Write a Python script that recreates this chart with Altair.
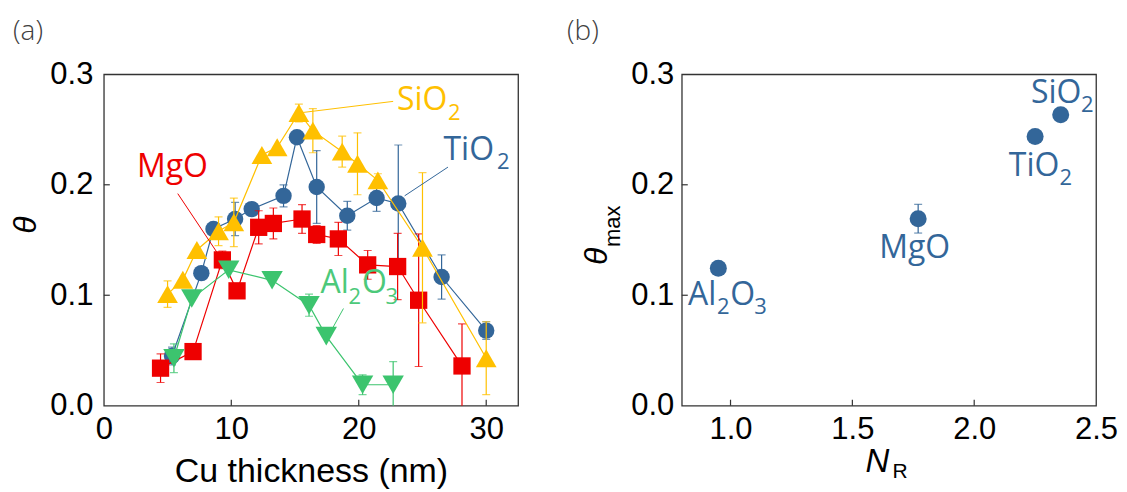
import altair as alt
import pandas as pd

# ---------------- Panel (a): theta vs Cu thickness ----------------
ti_t = [5.35, 7.65, 8.6, 10.3, 11.6, 14.1, 15.15, 16.7, 19.1, 21.4, 23.1, 26.5, 30.0]
ti_v = [0.045, 0.120, 0.160, 0.169, 0.178, 0.190, 0.243, 0.198, 0.172, 0.188, 0.183, 0.1165, 0.068]
ti_e = [0.008, 0.0, 0.0, 0.015, 0.0, 0.01, 0.0, 0.033, 0.013, 0.012, 0.053, 0.02, 0.008]

mg_t = [4.45, 7.0, 9.3, 10.45, 12.15, 13.3, 15.55, 16.7, 18.4, 20.7, 23.05, 24.7, 28.1]
mg_v = [0.034, 0.049, 0.132, 0.104, 0.1615, 0.165, 0.169, 0.155, 0.151, 0.1275, 0.126, 0.0955, 0.036]
mg_e = [0.013, 0.0, 0.008, 0.0, 0.015, 0.014, 0.013, 0.008, 0.015, 0.013, 0.03, 0.06, 0.038]

si_t = [5.0, 6.2, 7.3, 9.0, 10.2, 12.4, 13.6, 15.3, 16.4, 18.7, 19.9, 21.5, 25.0, 30.0]
si_v = [0.101, 0.114, 0.141, 0.158, 0.166, 0.227, 0.234, 0.265, 0.249, 0.230, 0.219, 0.204, 0.143, 0.043]
si_e = [0.012, 0.0, 0.0, 0.013, 0.022, 0.0, 0.0, 0.008, 0.02, 0.014, 0.028, 0.006, 0.068, 0.033]

al_t = [5.5, 6.9, 9.8, 13.2, 16.1, 17.45, 20.3, 22.7]
al_v = [0.043, 0.097, 0.123, 0.1135, 0.091, 0.063, 0.019, 0.019]
al_e = [0.013, 0.0, 0.0, 0.0, 0.01, 0.0, 0.009, 0.021]

x_ticks_a = [0, 10, 20, 30]
y_ticks = [0.0, 0.1, 0.2, 0.3]

# annotations of panel (a)
ann_a_label = ["SiO", "2", "TiO", "2", "MgO", "Al", "2", "O", "3"]
ann_a_t = [23.0, 27.0, 26.65, 30.84, 2.6, 17.0, 19.2, 20.25, 22.1]
ann_a_v = [0.268, 0.2584, 0.2228, 0.2147, 0.2066, 0.1018, 0.0921, 0.1018, 0.0921]
ann_a_col = ["SiO2", "SiO2", "TiO2", "TiO2", "MgO", "Al2O3", "Al2O3", "Al2O3", "Al2O3"]
ann_a_sub = [0, 1, 0, 1, 0, 0, 1, 0, 1]

lead_a_t = [15.3, 23.6, 5.8, 17.6]
lead_a_v = [0.265, 0.19, 0.192, 0.063]
lead_a_t2 = [22.7, 27.0, 9.27, 18.8]
lead_a_v2 = [0.2755, 0.216, 0.132, 0.088]
lead_a_col = ["SiO2", "TiO2", "MgO", "Al2O3"]

# ---------------- Panel (b): theta_max vs N_R ----------------
b_names = ["Al2O3", "MgO", "TiO2", "SiO2"]
b_nr = [0.95, 1.77, 2.25, 2.355]
b_v = [0.1245, 0.1693, 0.2437, 0.2633]
b_e = [0.0, 0.013, 0.0, 0.0]
x_ticks_b = [1.0, 1.5, 2.0, 2.5]

ann_b_label = ["SiO", "2", "TiO", "2", "MgO", "Al", "2", "O", "3"]
ann_b_x = [2.233, 2.438, 2.142, 2.35, 1.610, 0.826, 0.944, 0.999, 1.097]
ann_b_v = [0.2744, 0.2655, 0.2084, 0.2, 0.1334, 0.0916, 0.0827, 0.0916, 0.0827]
ann_b_sub = [0, 1, 0, 1, 0, 0, 1, 0, 1]

# ---------------- styles ----------------
COLORS = {"SiO2": "#FFC000", "TiO2": "#336699", "MgO": "#EE0000", "Al2O3": "#3CC46E"}
TEXTCOL = {"SiO2": "#FFC000", "TiO2": "#336699", "MgO": "#EE0000", "Al2O3": "#4CC97A"}
SHAPES = {"SiO2": "triangle-up", "TiO2": "circle", "MgO": "square", "Al2O3": "triangle-down"}
SIZES = {"SiO2": 430, "TiO2": 270, "MgO": 300, "Al2O3": 460}
ORDER = ["TiO2", "MgO", "SiO2", "Al2O3"]
DATA = {"TiO2": (ti_t, ti_v, ti_e), "MgO": (mg_t, mg_v, mg_e),
        "SiO2": (si_t, si_v, si_e), "Al2O3": (al_t, al_v, al_e)}

W, H = 415, 332
TICK_COL = "#333333"
LABEL_FONT = "Liberation Sans"
ANN_FONT = "Open Sans"
MAIN_FS, SUB_FS = 32, 22
PANEL_FS = 28
one = pd.DataFrame({"k": [0]})

# ---------- panel (a) ----------
xa_scale = alt.Scale(domain=[0, 32.5], nice=False, zero=False)
ya_scale = alt.Scale(domain=[0, 0.3], nice=False, zero=False)
xa_axis = alt.Axis(values=x_ticks_a, format="d", title="Cu thickness (nm)",
                   labelPadding=9, titlePadding=10)
ya_axis = alt.Axis(values=y_ticks, format=".1f", title=None, labelPadding=11)


def XA(f):
    return alt.X(f"{f}:Q", scale=xa_scale, axis=xa_axis)


def YA(f):
    return alt.Y(f"{f}:Q", scale=ya_scale, axis=ya_axis)


layers_a = []
for name in ORDER:
    ts, vs, es = DATA[name]
    df = pd.DataFrame({"t": ts, "theta": vs, "err": es, "i": list(range(len(ts)))})
    df["lo"] = df["theta"] - df["err"]
    df["hi"] = df["theta"] + df["err"]
    dfe = df[df["err"] > 0]
    c = COLORS[name]
    layers_a.append(alt.Chart(df).mark_line(color=c, strokeWidth=1.2).encode(
        x=XA("t"), y=YA("theta"), order="i:Q"))
    layers_a.append(alt.Chart(dfe).mark_rule(color=c, strokeWidth=1.2, clip=True).encode(
        x=XA("t"), y=YA("lo"), y2="hi:Q"))
    for f in ["lo", "hi"]:
        layers_a.append(alt.Chart(dfe).mark_tick(color=c, thickness=1.2, size=8,
                                                 orient="horizontal", clip=True).encode(
            x=XA("t"), y=YA(f)))
    layers_a.append(alt.Chart(df).mark_point(filled=True, opacity=1, color=c,
                                             shape=SHAPES[name], size=SIZES[name]).encode(
        x=XA("t"), y=YA("theta")))

ann_a = pd.DataFrame({"t": ann_a_t, "theta": ann_a_v, "label": ann_a_label,
                      "col": [TEXTCOL[c] for c in ann_a_col],
                      "fs": [SUB_FS if s else MAIN_FS for s in ann_a_sub]})
layers_a.append(alt.Chart(ann_a).mark_text(align="left", baseline="alphabetic",
                                           font=ANN_FONT).encode(
    x=XA("t"), y=YA("theta"), text="label:N",
    color=alt.Color("col:N", scale=None), size=alt.Size("fs:Q", scale=None)))

lead_a = pd.DataFrame({"t": lead_a_t, "theta": lead_a_v, "t2": lead_a_t2,
                       "theta2": lead_a_v2, "col": [COLORS[c] for c in lead_a_col]})
layers_a.append(alt.Chart(lead_a).mark_rule(strokeWidth=1).encode(
    x=XA("t"), y=YA("theta"), x2="t2:Q", y2="theta2:Q",
    color=alt.Color("col:N", scale=None)))

layers_a.append(alt.Chart(pd.DataFrame({"t": x_ticks_a[1:]})).mark_rule(
    color=TICK_COL, strokeWidth=1.2).encode(x=XA("t"), y=alt.value(H), y2=alt.value(H - 6)))
layers_a.append(alt.Chart(pd.DataFrame({"theta": y_ticks[1:3]})).mark_rule(
    color=TICK_COL, strokeWidth=1.2).encode(y=YA("theta"), x=alt.value(0), x2=alt.value(6)))

layers_a.append(alt.Chart(one).mark_text(angle=270, align="center", baseline="alphabetic",
                                         font=LABEL_FONT, fontStyle="italic", fontSize=32,
                                         color="black").encode(
    x=alt.value(-68), y=alt.value(151), text=alt.value("θ")))
layers_a.append(alt.Chart(one).mark_text(align="left", baseline="top", font=ANN_FONT,
                                         fontWeight=300, fontSize=PANEL_FS,
                                         color="#404040").encode(
    x=alt.value(-91), y=alt.value(-56), text=alt.value("(a)")))

panel_a = alt.layer(*layers_a).properties(width=W, height=H)

# ---------- panel (b) ----------
xb_scale = alt.Scale(domain=[0.8, 2.5], nice=False, zero=False)
xb_axis = alt.Axis(values=x_ticks_b, format=".1f", title=None, labelPadding=9)
yb_axis = alt.Axis(values=y_ticks, format=".1f", title=None, labelPadding=8)


def XB(f):
    return alt.X(f"{f}:Q", scale=xb_scale, axis=xb_axis)


def YB(f):
    return alt.Y(f"{f}:Q", scale=ya_scale, axis=yb_axis)


dfb = pd.DataFrame({"nr": b_nr, "theta": b_v, "err": b_e, "name": b_names})
dfb["lo"] = dfb["theta"] - dfb["err"]
dfb["hi"] = dfb["theta"] + dfb["err"]
dfbe = dfb[dfb["err"] > 0]
BLUE = COLORS["TiO2"]
layers_b = [
    alt.Chart(dfbe).mark_rule(color=BLUE, strokeWidth=1.2).encode(
        x=XB("nr"), y=YB("lo"), y2="hi:Q"),
    alt.Chart(dfbe).mark_tick(color=BLUE, thickness=1.2, size=8, orient="horizontal").encode(
        x=XB("nr"), y=YB("lo")),
    alt.Chart(dfbe).mark_tick(color=BLUE, thickness=1.2, size=8, orient="horizontal").encode(
        x=XB("nr"), y=YB("hi")),
    alt.Chart(dfb).mark_point(filled=True, opacity=1, color=BLUE, shape="circle",
                              size=290).encode(x=XB("nr"), y=YB("theta")),
]
ann_b = pd.DataFrame({"nr": ann_b_x, "theta": ann_b_v, "label": ann_b_label,
                      "fs": [SUB_FS if s else MAIN_FS for s in ann_b_sub]})
layers_b.append(alt.Chart(ann_b).mark_text(align="left", baseline="alphabetic",
                                           font=ANN_FONT, color=BLUE).encode(
    x=XB("nr"), y=YB("theta"), text="label:N", size=alt.Size("fs:Q", scale=None)))
layers_b.append(alt.Chart(pd.DataFrame({"nr": x_ticks_b[:3]})).mark_rule(
    color=TICK_COL, strokeWidth=1.2).encode(x=XB("nr"), y=alt.value(H), y2=alt.value(H - 6)))
layers_b.append(alt.Chart(pd.DataFrame({"theta": y_ticks[1:3]})).mark_rule(
    color=TICK_COL, strokeWidth=1.2).encode(y=YB("theta"), x=alt.value(0), x2=alt.value(6)))
# axis titles with subscripts
layers_b.append(alt.Chart(one).mark_text(angle=270, align="left", baseline="alphabetic",
                                         font=LABEL_FONT, fontStyle="italic", fontSize=32,
                                         color="black").encode(
    x=alt.value(-75), y=alt.value(191), text=alt.value("θ")))
layers_b.append(alt.Chart(one).mark_text(angle=270, align="left", baseline="alphabetic",
                                         font=LABEL_FONT, fontSize=22, color="black").encode(
    x=alt.value(-62), y=alt.value(173), text=alt.value("max")))
layers_b.append(alt.Chart(one).mark_text(align="left", baseline="alphabetic",
                                         font=LABEL_FONT, fontStyle="italic", fontSize=33,
                                         color="black").encode(
    x=alt.value(184), y=alt.value(398), text=alt.value("N")))
layers_b.append(alt.Chart(one).mark_text(align="left", baseline="alphabetic",
                                         font=LABEL_FONT, fontSize=21, color="black").encode(
    x=alt.value(211), y=alt.value(404), text=alt.value("R")))
layers_b.append(alt.Chart(one).mark_text(align="left", baseline="top", font=ANN_FONT,
                                         fontWeight=300, fontSize=PANEL_FS,
                                         color="#404040").encode(
    x=alt.value(-115), y=alt.value(-56), text=alt.value("(b)")))

panel_b = alt.layer(*layers_b).properties(width=W, height=H)

chart = alt.hconcat(panel_a, panel_b, spacing=164, bounds="flush",
                    padding={"left": 1, "top": 9, "right": 0, "bottom": 0}
                    ).configure_view(stroke="#333333", strokeWidth=1.3
                    ).configure_axis(labelFont=LABEL_FONT, labelFontSize=31, labelColor="black",
                                     ticks=False, tickSize=0, domain=False, grid=False,
                                     labelFlush=False, labelOverlap=False,
                                     titleFont=LABEL_FONT, titleFontSize=34,
                                     titleFontWeight="normal", titleColor="black")

chart.save("out.html", embed_options={"renderer": "svg", "actions": False})
